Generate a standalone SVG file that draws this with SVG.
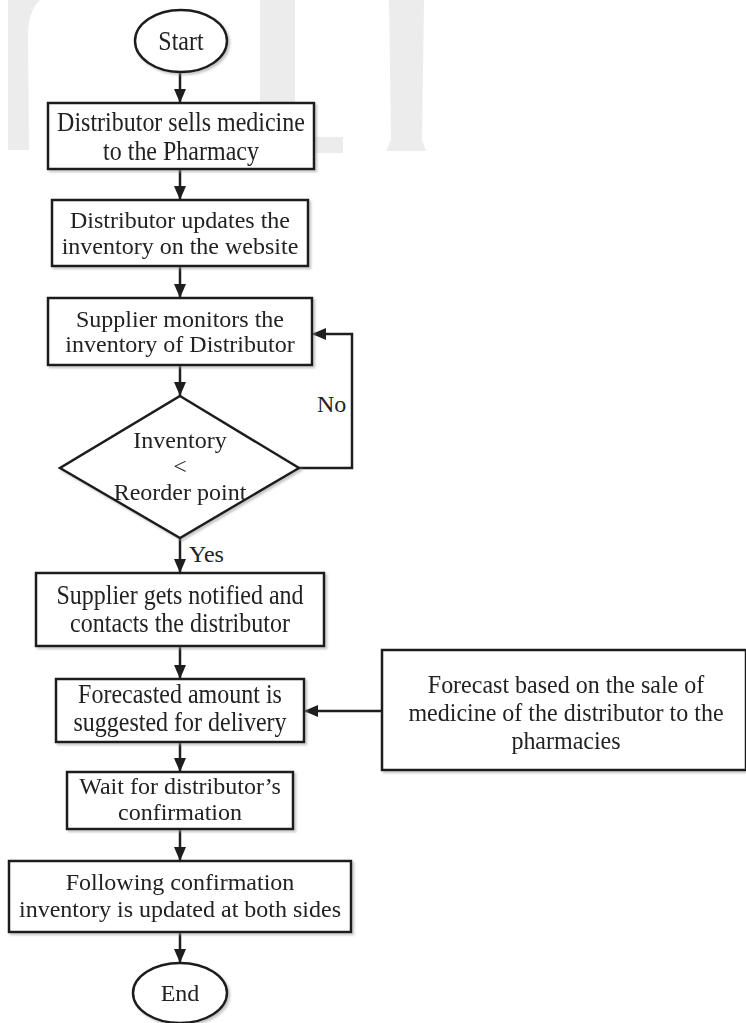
<svg xmlns="http://www.w3.org/2000/svg" width="746" height="1023" viewBox="0 0 746 1023">
  <defs>
    <style>
      .shape { fill: #ffffff; stroke: #1e1e1e; stroke-width: 2.5; }
      .wire { fill: none; stroke: #1e1e1e; stroke-width: 2.5; }
      .lbl { font-family: "Liberation Serif", "Times New Roman", serif; font-size: 24px; fill: #222222; text-anchor: middle; }
      .tag { font-family: "Liberation Serif", "Times New Roman", serif; font-size: 24px; fill: #222222; }
      .wm { fill: #ececec; }
    </style>
    <filter id="shadow" x="-5%" y="-5%" width="115%" height="120%">
      <feDropShadow dx="2" dy="2" stdDeviation="1" flood-color="#9a9a9a" flood-opacity="0.55"/>
    </filter>
    <marker id="arrow" markerUnits="userSpaceOnUse" markerWidth="14" markerHeight="12" refX="14" refY="6" orient="auto">
      <path d="M0,0 L14,6 L0,12 Z" fill="#1e1e1e"/>
    </marker>
  </defs>

  <rect width="746" height="1023" fill="#ffffff"/>

  <!-- background letter marks -->
  <g id="backdrop">
    <path class="wm" d="M8,0 L8,150 L29,150 L28,32 Q29,10 40,0 Z"/>
    <path class="wm" d="M260,0 L260,110 Q262,153 305,153 L343,153 L343,137 L312,137 Q295,136 295,110 L295,0 Z"/>
    <path class="wm" d="M389,0 L391,140 L386,151 L426,151 L422,140 L424,0 Z"/>
  </g>

  <!-- connectors -->
  <g id="connectors">
    <line class="wire" x1="180" y1="72" x2="180" y2="103" marker-end="url(#arrow)"/>
    <line class="wire" x1="180" y1="169" x2="180" y2="200" marker-end="url(#arrow)"/>
    <line class="wire" x1="180" y1="266" x2="180" y2="298" marker-end="url(#arrow)"/>
    <line class="wire" x1="180" y1="365" x2="180" y2="396" marker-end="url(#arrow)"/>
    <polyline class="wire" points="299,468 352,468 352,334 312,334" marker-end="url(#arrow)"/>
    <line class="wire" x1="180" y1="538" x2="180" y2="573" marker-end="url(#arrow)"/>
    <line class="wire" x1="180" y1="646" x2="180" y2="679" marker-end="url(#arrow)"/>
    <line class="wire" x1="382" y1="711" x2="304" y2="711" marker-end="url(#arrow)"/>
    <line class="wire" x1="180" y1="742" x2="180" y2="772" marker-end="url(#arrow)"/>
    <line class="wire" x1="180" y1="829" x2="180" y2="861" marker-end="url(#arrow)"/>
    <line class="wire" x1="180" y1="932" x2="180" y2="963" marker-end="url(#arrow)"/>
    <text class="tag" x="317" y="412">No</text>
    <text class="tag" x="189" y="562">Yes</text>
  </g>

  <g id="start" filter="url(#shadow)">
    <ellipse class="shape" cx="181" cy="41" rx="46" ry="31"/>
    <text class="lbl" transform="translate(181,50) scale(1,1.12)">Start</text>
  </g>

  <g id="sells" filter="url(#shadow)">
    <rect class="shape" x="48" y="103" width="266" height="66"/>
    <text class="lbl" transform="translate(181,131) scale(1,1.12)">Distributor sells medicine</text>
    <text class="lbl" transform="translate(181,160) scale(1,1.12)">to the Pharmacy</text>
  </g>

  <g id="updates" filter="url(#shadow)">
    <rect class="shape" x="52" y="200" width="256" height="66"/>
    <text class="lbl" x="180" y="228">Distributor updates the</text>
    <text class="lbl" x="180" y="254">inventory on the website</text>
  </g>

  <g id="monitors" filter="url(#shadow)">
    <rect class="shape" x="48" y="298" width="264" height="67"/>
    <text class="lbl" x="180" y="327">Supplier monitors the</text>
    <text class="lbl" x="180" y="352">inventory of Distributor</text>
  </g>

  <g id="check" filter="url(#shadow)">
    <polygon class="shape" points="180,396 299,468 180,538 60,468"/>
    <text class="lbl" x="180" y="448">Inventory</text>
    <text class="lbl" x="180" y="474">&lt;</text>
    <text class="lbl" x="180" y="500">Reorder point</text>
  </g>

  <g id="notified" filter="url(#shadow)">
    <rect class="shape" x="36" y="573" width="288" height="73"/>
    <text class="lbl" transform="translate(180,604) scale(1,1.12)">Supplier gets notified and</text>
    <text class="lbl" transform="translate(180,632) scale(1,1.12)">contacts the distributor</text>
  </g>

  <g id="suggested" filter="url(#shadow)">
    <rect class="shape" x="56" y="679" width="248" height="63"/>
    <text class="lbl" transform="translate(180,703) scale(1,1.12)">Forecasted amount is</text>
    <text class="lbl" transform="translate(180,731) scale(1,1.12)">suggested for delivery</text>
  </g>

  <g id="forecast" filter="url(#shadow)">
    <rect class="shape" x="382" y="650" width="364" height="120"/>
    <text class="lbl" transform="translate(566,693) scale(1,1.06)">Forecast based on the sale of</text>
    <text class="lbl" transform="translate(566,721) scale(1,1.06)">medicine of the distributor to the</text>
    <text class="lbl" transform="translate(566,749) scale(1,1.06)">pharmacies</text>
  </g>

  <g id="confirm" filter="url(#shadow)">
    <rect class="shape" x="67" y="772" width="226" height="57"/>
    <text class="lbl" x="180" y="794">Wait for distributor’s</text>
    <text class="lbl" x="180" y="820">confirmation</text>
  </g>

  <g id="both-sides" filter="url(#shadow)">
    <rect class="shape" x="9" y="861" width="342" height="71"/>
    <text class="lbl" x="180" y="890">Following confirmation</text>
    <text class="lbl" x="180" y="917">inventory is updated at both sides</text>
  </g>

  <g id="end" filter="url(#shadow)">
    <ellipse class="shape" cx="180" cy="993" rx="47" ry="30"/>
    <text class="lbl" x="180" y="1001">End</text>
  </g>
</svg>
